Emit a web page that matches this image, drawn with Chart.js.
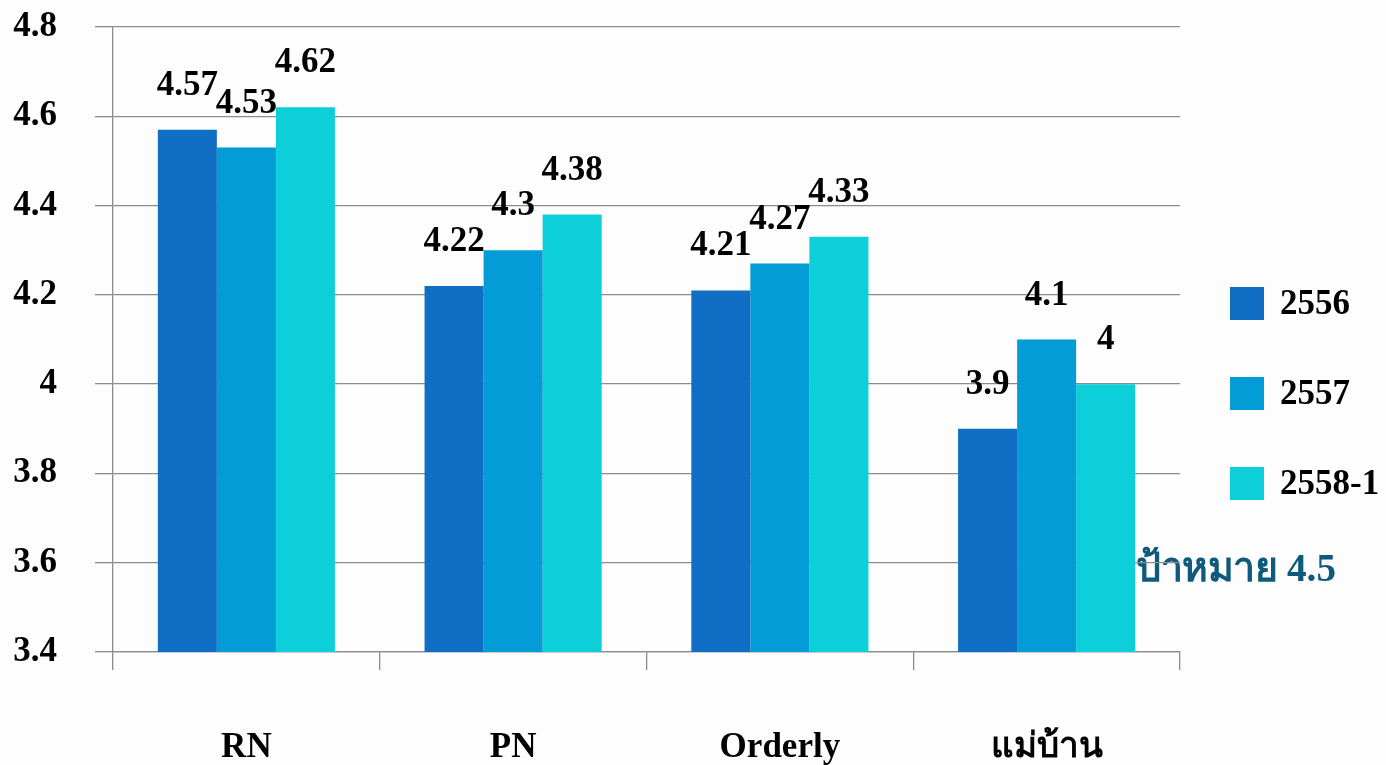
<!DOCTYPE html>
<html>
<head>
<meta charset="utf-8">
<script src="https://cdn.jsdelivr.net/npm/chart.js@4.4.1/dist/chart.umd.min.js"></script>
<style>
  html, body { margin: 0; padding: 0; background: #fdfdfd; }
  #wrap { width: 1386px; height: 765px; position: relative; }
</style>
</head>
<body>
<div id="wrap"><canvas id="c" width="1386" height="765"></canvas></div>
<script>
// Satisfaction scores by staff group and year
const categories = ['RN', 'PN', 'Orderly', 'แม่บ้าน'];
const seriesNames = ['2556', '2557', '2558-1'];
const values2556 = [4.57, 4.22, 4.21, 3.9];
const values2557 = [4.53, 4.3, 4.27, 4.1];
const values2558 = [4.62, 4.38, 4.33, 4];
const yTicks = [3.4, 3.6, 3.8, 4, 4.2, 4.4, 4.6, 4.8];
const targetText = 'เป้าหมาย 4.5';

const colors = ['#106ec5', '#039cd6', '#0ccfd9'];
const serif = '"Liberation Serif", "Times New Roman", serif';
const gridColor = '#8c8c8c';

// Fill the page background and put the target note beneath grid and bars
const bgPlugin = {
  id: 'bg',
  beforeDraw(chart) {
    const ctx = chart.ctx;
    ctx.save();
    ctx.fillStyle = '#fdfdfd';
    ctx.fillRect(0, 0, chart.width, chart.height);
    ctx.font = 'bold 40px ' + serif;
    ctx.fillStyle = '#0d5a7c';
    ctx.textAlign = 'left';
    ctx.textBaseline = 'alphabetic';
    // the leading vowel tucks in behind the last bar
    const lead = ctx.measureText('เ').width;
    const rest = ctx.measureText(targetText.slice(1)).width;
    const sx = 200 / rest;
    ctx.translate(1136, 581);
    ctx.scale(sx, 1);
    ctx.fillText(targetText, -lead, 0);
    ctx.restore();
  }
};

// Value labels above each bar
const valueLabels = {
  id: 'valueLabels',
  afterDatasetsDraw(chart) {
    const ctx = chart.ctx;
    ctx.save();
    ctx.font = 'bold 35px ' + serif;
    ctx.fillStyle = '#000';
    ctx.textAlign = 'center';
    ctx.textBaseline = 'alphabetic';
    chart.data.datasets.forEach((ds, i) => {
      chart.getDatasetMeta(i).data.forEach((bar, j) => {
        ctx.fillText(String(ds.data[j]), bar.x, bar.y - 35);
      });
    });
    ctx.restore();
  }
};

// Legend column on the right
const sideLegend = {
  id: 'sideLegend',
  afterDraw(chart) {
    const ctx = chart.ctx;
    ctx.save();
    ctx.font = 'bold 35px ' + serif;
    ctx.textAlign = 'left';
    ctx.textBaseline = 'middle';
    chart.data.datasets.forEach((ds, i) => {
      const cy = 304 + i * 90;
      ctx.fillStyle = ds.backgroundColor;
      ctx.fillRect(1230, cy - 17, 34, 33);
      ctx.fillStyle = '#000';
      ctx.fillText(ds.label, 1280, cy + 1);
    });
    ctx.restore();
  }
};

const seriesValues = [values2556, values2557, values2558];

new Chart(document.getElementById('c'), {
  type: 'bar',
  data: {
    labels: categories,
    datasets: seriesNames.map((name, i) => ({
      label: name,
      data: seriesValues[i],
      backgroundColor: colors[i],
      borderWidth: 0,
      categoryPercentage: 0.664,
      barPercentage: 1.0
    }))
  },
  options: {
    responsive: false,
    animation: false,
    layout: { padding: { left: 0, top: 27, right: 206, bottom: 0 } },
    plugins: { legend: { display: false }, tooltip: { enabled: false } },
    scales: {
      y: {
        min: 3.4,
        max: 4.8,
        afterBuildTicks(scale) {
          scale.ticks = yTicks.map(v => ({ value: v }));
        },
        afterFit(scale) {
          scale.width = 113;
          scale.paddingTop = 0;
          scale.paddingBottom = 0;
        },
        ticks: {
          font: { family: serif, size: 35, weight: 'bold' },
          color: '#000',
          padding: 38,
          callback: v => String(Number(v.toFixed(1)))
        },
        grid: { color: gridColor, lineWidth: 1.3, tickLength: 18, drawTicks: true },
        border: { color: gridColor, width: 1.3 }
      },
      x: {
        afterFit(scale) { scale.height = 765 - 652; },
        ticks: {
          font: { family: serif, size: 35, weight: 'bold' },
          color: '#000',
          padding: 57
        },
        grid: { drawOnChartArea: false, drawTicks: true, tickLength: 18, color: gridColor, lineWidth: 1.3 },
        border: { color: gridColor, width: 1.3 }
      }
    }
  },
  plugins: [bgPlugin, valueLabels, sideLegend]
});
</script>
</body>
</html>
